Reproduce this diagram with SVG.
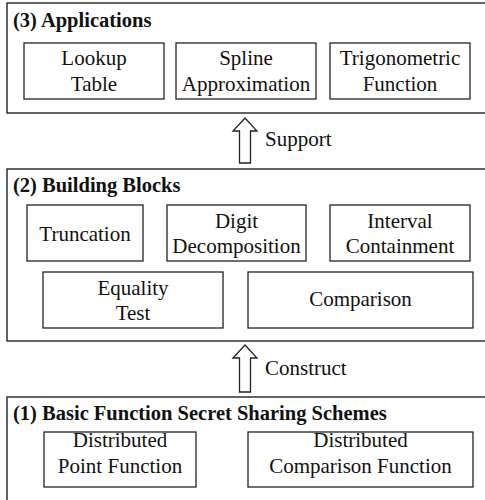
<svg xmlns="http://www.w3.org/2000/svg" width="485" height="500" viewBox="0 0 485 500" font-family="Liberation Serif, Times New Roman, Times, DejaVu Serif, serif">
  <style>
    .panel { fill: #ffffff; stroke: #222222; stroke-width: 1.4; }
    .box { fill: #ffffff; stroke: #222222; stroke-width: 1.3; }
    .arrow { fill: #ffffff; stroke: #222222; stroke-width: 1.3; stroke-linejoin: miter; }
    .title { font-weight: bold; font-size: 20.5px; fill: #111111; }
    .label { font-size: 21px; text-anchor: middle; fill: #111111; }
    .note { font-size: 21px; fill: #111111; }
  </style>
  <rect width="485" height="500" fill="#ffffff"/>

  <!-- Layer 3 -->
  <g id="applications">
    <rect class="panel" x="7" y="3" width="490" height="110"/>
    <text class="title" x="13" y="27" font-family="Liberation Serif">(3) Applications</text>
  </g>
  <g id="lookup-table">
    <rect class="box" x="24" y="43" width="140" height="56"/>
    <text class="label" x="94" y="65">Lookup</text>
    <text class="label" x="94" y="91">Table</text>
  </g>
  <g id="spline-approximation">
    <rect class="box" x="176" y="43" width="140" height="56"/>
    <text class="label" x="246" y="65">Spline</text>
    <text class="label" x="246" y="91">Approximation</text>
  </g>
  <g id="trigonometric-function">
    <rect class="box" x="330" y="43" width="140" height="56"/>
    <text class="label" x="400" y="65">Trigonometric</text>
    <text class="label" x="400" y="91">Function</text>
  </g>

  <!-- Layer 2 -->
  <g id="building-blocks">
    <rect class="panel" x="7" y="169" width="490" height="172"/>
    <text class="title" x="13" y="192">(2) Building Blocks</text>
  </g>
  <g id="truncation">
    <rect class="box" x="27" y="205" width="116" height="56"/>
    <text class="label" x="85" y="241">Truncation</text>
  </g>
  <g id="digit-decomposition">
    <rect class="box" x="167" y="205" width="139" height="56"/>
    <text class="label" x="236.5" y="228">Digit</text>
    <text class="label" x="236.5" y="253">Decomposition</text>
  </g>
  <g id="interval-containment">
    <rect class="box" x="330" y="205" width="140" height="56"/>
    <text class="label" x="400" y="228">Interval</text>
    <text class="label" x="400" y="253">Containment</text>
  </g>
  <g id="equality-test">
    <rect class="box" x="43" y="272" width="180" height="56"/>
    <text class="label" x="133" y="295">Equality</text>
    <text class="label" x="133" y="320">Test</text>
  </g>
  <g id="comparison">
    <rect class="box" x="248" y="272" width="225" height="56"/>
    <text class="label" x="360.5" y="306">Comparison</text>
  </g>

  <!-- Layer 1 -->
  <g id="basic-fss">
    <rect class="panel" x="7" y="397" width="490" height="110"/>
    <text class="title" x="13" y="420">(1) Basic Function Secret Sharing Schemes</text>
  </g>
  <g id="distributed-point-function">
    <rect class="box" x="44" y="432" width="152" height="55"/>
    <text class="label" x="120" y="447">Distributed</text>
    <text class="label" x="120" y="473">Point Function</text>
  </g>
  <g id="distributed-comparison-function">
    <rect class="box" x="248" y="432" width="225" height="55"/>
    <text class="label" x="360.5" y="447">Distributed</text>
    <text class="label" x="360.5" y="473">Comparison Function</text>
  </g>

  <!-- Connectors: hollow block arrows between layers -->
  <g id="connectors">
    <g id="support">
      <polygon class="arrow" points="245,118 257,131 250.5,131 250.5,163 239.5,163 239.5,131 233,131"/>
      <text class="note" x="265" y="146">Support</text>
    </g>
    <g id="construct">
      <polygon class="arrow" points="245,345 257,358 250.5,358 250.5,392 239.5,392 239.5,358 233,358"/>
      <text class="note" x="265" y="375">Construct</text>
    </g>
  </g>
</svg>
